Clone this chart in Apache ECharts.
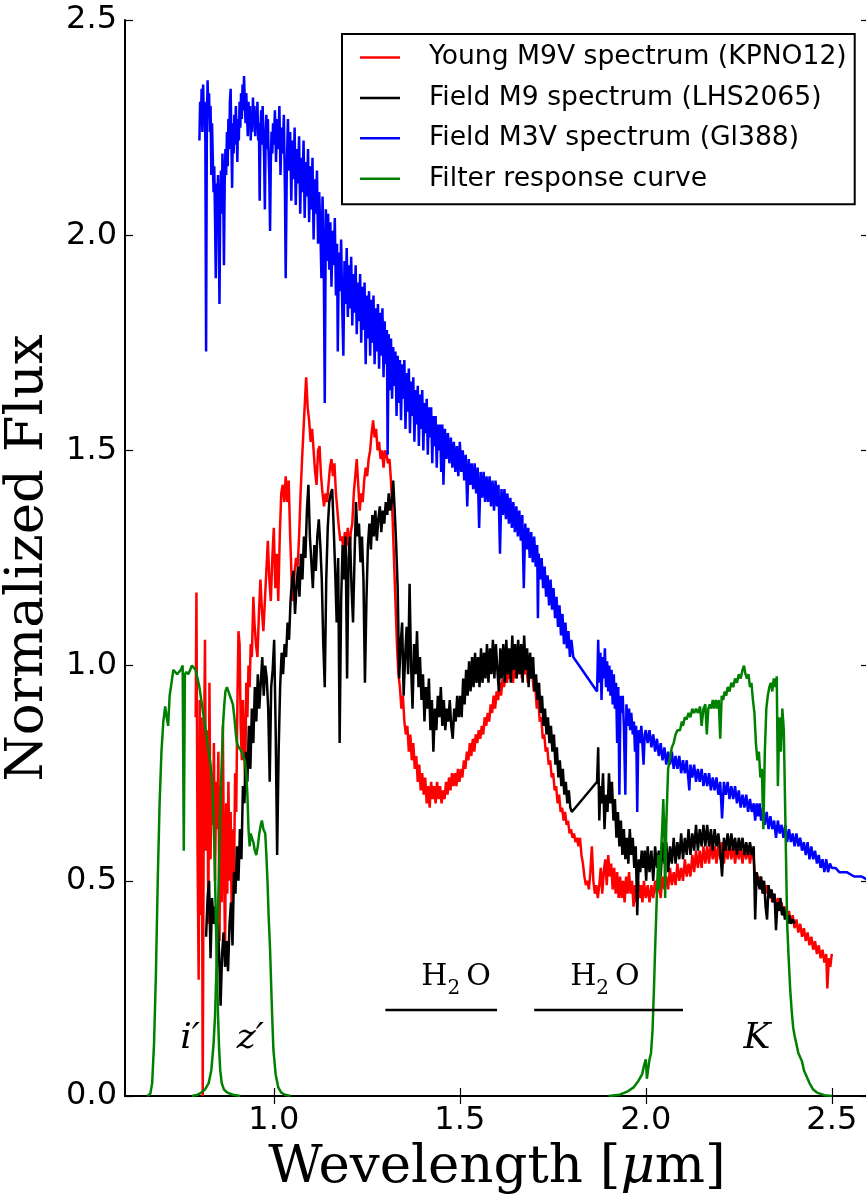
<!DOCTYPE html>
<html>
<head>
<meta charset="utf-8">
<script src="https://cdn.jsdelivr.net/npm/echarts@6/dist/echarts.min.js"></script>
<style>
  html, body { margin: 0; padding: 0; background: #fff; }
  #chart { width: 866px; height: 1196px; }
</style>
</head>
<body>
<div id="chart"></div>
<script>
// Tick positions on the wavelength axis
const xTicks = [1.0, 1.5, 2.0, 2.5];

// Young M9V spectrum (KPNO12): [wavelength um, normalized flux]
const youngM9 = [
  [0.790,0.88],[0.792,1.17],[0.795,0.57],[0.798,0.27],[0.801,0.92],[0.803,0.42],[0.806,0.88],[0.809,0.00],
  [0.812,0.75],[0.815,1.06],[0.818,0.57],[0.821,0.85],[0.824,0.40],[0.827,0.96],[0.830,0.55],[0.833,0.75],
  [0.836,0.63],[0.839,0.82],[0.842,0.50],[0.845,0.73],[0.848,0.62],[0.851,0.80],[0.854,0.36],[0.857,0.72],
  [0.860,0.45],[0.863,0.86],[0.866,0.55],[0.869,0.34],[0.872,0.68],[0.875,0.47],[0.878,0.73],[0.881,0.50],
  [0.884,0.66],[0.887,0.40],[0.890,0.62],[0.893,0.50],[0.896,0.75],[0.899,0.66],[0.902,0.90],[0.905,1.08],
  [0.908,1.05],[0.911,0.86],[0.914,0.78],[0.917,0.92],[0.920,0.82],[0.923,0.72],[0.926,0.96],[0.929,0.88],
  [0.932,1.00],[0.935,0.95],[0.938,1.05],[0.941,1.02],[0.945,1.16],[0.948,1.10],[0.952,1.05],[0.956,1.02],
  [0.960,1.12],[0.964,1.20],[0.968,1.13],[0.972,1.08],[0.976,1.15],[0.980,1.22],[0.984,1.29],[0.988,1.20],
  [0.992,1.15],[0.996,1.25],[1.000,1.32],[1.004,1.18],[1.008,1.26],[1.012,1.15],[1.016,1.30],[1.020,1.40],
  [1.024,1.42],[1.028,1.38],[1.032,1.44],[1.036,1.38],[1.040,1.43],[1.044,1.30],[1.048,1.20],[1.052,1.15],
  [1.056,1.22],[1.060,1.25],[1.064,1.23],[1.068,1.30],[1.072,1.40],[1.076,1.48],[1.080,1.55],[1.084,1.62],
  [1.087,1.67],[1.091,1.60],[1.095,1.57],[1.099,1.52],[1.103,1.55],[1.107,1.50],[1.111,1.45],[1.115,1.42],
  [1.119,1.50],[1.123,1.51],[1.127,1.44],[1.131,1.40],[1.135,1.37],[1.139,1.40],[1.143,1.38],[1.147,1.42],
  [1.151,1.46],[1.155,1.48],[1.159,1.44],[1.163,1.47],[1.167,1.40],[1.171,1.36],[1.175,1.32],[1.179,1.29],
  [1.183,1.30],[1.187,1.27],[1.191,1.31],[1.195,1.28],[1.199,1.32],[1.203,1.26],[1.207,1.31],[1.211,1.33],
  [1.215,1.40],[1.219,1.44],[1.223,1.48],[1.227,1.42],[1.231,1.36],[1.235,1.40],[1.239,1.38],[1.243,1.43],
  [1.247,1.46],[1.251,1.44],[1.255,1.48],[1.259,1.50],[1.263,1.54],[1.267,1.57],[1.271,1.53],[1.275,1.55],
  [1.279,1.50],[1.283,1.52],[1.287,1.48],[1.291,1.50],[1.295,1.46],[1.299,1.50],[1.303,1.49],[1.307,1.47],
  [1.311,1.48],[1.315,1.43],[1.319,1.35],[1.323,1.25],[1.327,1.15],[1.331,1.05],[1.335,0.98],[1.339,0.95],
  [1.343,0.90],[1.347,0.93],[1.351,0.87],[1.355,0.84],[1.359,0.86],[1.363,0.80],[1.367,0.84],[1.371,0.78],
  [1.375,0.82],[1.379,0.76],[1.383,0.79],[1.387,0.73],[1.391,0.77],[1.395,0.71],[1.399,0.75],[1.403,0.70],
  [1.407,0.74],[1.411,0.68],[1.415,0.72],[1.419,0.67],[1.423,0.73],[1.427,0.69],[1.431,0.72],[1.435,0.68],
  [1.439,0.73],[1.443,0.69],[1.447,0.72],[1.451,0.68],[1.455,0.71],[1.459,0.69],[1.463,0.73],[1.467,0.70],
  [1.471,0.74],[1.475,0.71],[1.479,0.75],[1.483,0.72],[1.487,0.75],[1.491,0.72],[1.495,0.76],[1.499,0.73],
  [1.503,0.76],[1.507,0.74],[1.511,0.78],[1.515,0.76],[1.519,0.80],[1.523,0.78],[1.527,0.82],[1.531,0.79],
  [1.535,0.83],[1.539,0.80],[1.543,0.84],[1.547,0.82],[1.551,0.85],[1.555,0.83],[1.559,0.86],[1.563,0.84],
  [1.567,0.88],[1.571,0.86],[1.575,0.89],[1.579,0.87],[1.583,0.91],[1.587,0.89],[1.591,0.93],[1.595,0.90],
  [1.599,0.94],[1.603,0.92],[1.607,0.96],[1.611,0.93],[1.615,0.97],[1.619,0.95],[1.623,0.99],[1.627,0.96],
  [1.631,1.00],[1.635,0.97],[1.639,1.00],[1.643,0.96],[1.647,1.01],[1.651,0.97],[1.655,1.00],[1.659,0.98],
  [1.663,1.02],[1.667,0.97],[1.671,1.01],[1.675,0.98],[1.679,1.00],[1.683,0.96],[1.687,1.00],[1.691,0.97],
  [1.695,0.98],[1.699,0.94],[1.703,0.95],[1.707,0.90],[1.711,0.92],[1.715,0.87],[1.719,0.88],[1.723,0.83],
  [1.727,0.84],[1.731,0.80],[1.735,0.81],[1.739,0.77],[1.743,0.78],[1.747,0.74],[1.751,0.75],[1.755,0.71],
  [1.759,0.72],[1.763,0.68],[1.767,0.70],[1.771,0.66],[1.775,0.67],[1.779,0.64],[1.783,0.66],[1.787,0.63],
  [1.791,0.64],[1.795,0.61],[1.799,0.62],[1.803,0.60],[1.807,0.61],[1.811,0.59],[1.815,0.60],[1.819,0.58],
  [1.823,0.60],[1.827,0.56],[1.831,0.54],[1.835,0.51],[1.839,0.49],[1.843,0.50],[1.847,0.48],[1.851,0.52],
  [1.855,0.58],[1.859,0.50],[1.863,0.47],[1.867,0.49],[1.871,0.46],[1.875,0.49],[1.879,0.53],[1.883,0.47],
  [1.887,0.52],[1.891,0.55],[1.895,0.49],[1.899,0.56],[1.903,0.51],[1.907,0.54],[1.911,0.48],[1.915,0.53],
  [1.919,0.47],[1.923,0.52],[1.927,0.46],[1.931,0.51],[1.935,0.46],[1.939,0.50],[1.943,0.45],[1.947,0.51],
  [1.951,0.47],[1.955,0.52],[1.959,0.47],[1.963,0.50],[1.967,0.44],[1.971,0.49],[1.975,0.45],[1.979,0.50],
  [1.983,0.46],[1.987,0.49],[1.991,0.45],[1.995,0.50],[2.000,0.46],[2.005,0.49],[2.010,0.45],[2.015,0.49],
  [2.020,0.46],[2.025,0.50],[2.030,0.47],[2.035,0.50],[2.040,0.46],[2.045,0.51],[2.050,0.48],[2.055,0.51],
  [2.060,0.48],[2.065,0.53],[2.070,0.49],[2.075,0.52],[2.080,0.49],[2.085,0.54],[2.090,0.50],[2.095,0.53],
  [2.100,0.50],[2.105,0.55],[2.110,0.51],[2.115,0.54],[2.120,0.51],[2.125,0.56],[2.130,0.52],[2.135,0.57],
  [2.140,0.53],[2.145,0.57],[2.150,0.53],[2.155,0.58],[2.160,0.54],[2.165,0.58],[2.170,0.54],[2.175,0.59],
  [2.180,0.55],[2.185,0.58],[2.190,0.54],[2.195,0.59],[2.200,0.55],[2.205,0.59],[2.210,0.54],[2.215,0.58],
  [2.220,0.55],[2.225,0.59],[2.230,0.55],[2.235,0.58],[2.240,0.54],[2.245,0.58],[2.250,0.55],[2.255,0.58],
  [2.260,0.54],[2.265,0.58],[2.270,0.55],[2.275,0.58],[2.280,0.54],[2.285,0.57],[2.290,0.55],[2.294,0.51],
  [2.298,0.52],[2.302,0.49],[2.306,0.51],[2.310,0.48],[2.315,0.50],[2.320,0.47],[2.325,0.49],[2.330,0.46],
  [2.335,0.48],[2.340,0.45],[2.345,0.47],[2.350,0.44],[2.355,0.46],[2.360,0.43],[2.365,0.45],[2.370,0.42],
  [2.375,0.44],[2.380,0.41],[2.385,0.43],[2.390,0.40],[2.395,0.42],[2.400,0.39],[2.405,0.41],[2.410,0.38],
  [2.415,0.40],[2.420,0.37],[2.425,0.39],[2.430,0.36],[2.435,0.38],[2.440,0.35],[2.445,0.37],[2.450,0.34],
  [2.455,0.36],[2.460,0.33],[2.465,0.35],[2.470,0.32],[2.475,0.34],[2.480,0.31],[2.485,0.33],[2.488,0.25],
  [2.492,0.32],[2.496,0.30],[2.500,0.33]
];

// Field M9 spectrum (LHS2065)
const fieldM9 = [
  [0.818,0.37],[0.822,0.46],[0.826,0.50],[0.830,0.32],[0.834,0.46],[0.838,0.40],[0.842,0.44],[0.846,0.38],
  [0.850,0.40],[0.854,0.30],[0.857,0.21],[0.861,0.33],[0.865,0.38],[0.869,0.30],[0.873,0.36],[0.877,0.29],
  [0.881,0.40],[0.885,0.45],[0.889,0.35],[0.893,0.52],[0.897,0.47],[0.901,0.58],[0.905,0.50],[0.909,0.62],
  [0.913,0.55],[0.917,0.72],[0.921,0.68],[0.925,0.80],[0.929,0.73],[0.933,0.86],[0.937,0.76],[0.941,0.90],
  [0.945,0.82],[0.949,0.95],[0.953,0.87],[0.957,0.98],[0.961,0.90],[0.965,0.96],[0.969,1.02],[0.973,0.93],
  [0.977,1.00],[0.981,0.97],[0.985,0.90],[0.989,0.73],[0.993,0.95],[0.997,0.99],[1.001,1.06],[1.005,0.85],
  [1.009,0.56],[1.013,0.80],[1.017,0.95],[1.021,1.03],[1.025,0.98],[1.029,1.05],[1.033,1.02],[1.037,1.10],
  [1.041,1.06],[1.045,1.15],[1.049,1.20],[1.053,1.22],[1.057,1.12],[1.061,1.18],[1.065,1.23],[1.069,1.16],
  [1.073,1.26],[1.077,1.20],[1.081,1.30],[1.085,1.25],[1.089,1.36],[1.093,1.42],[1.097,1.30],[1.101,1.24],
  [1.105,1.18],[1.109,1.28],[1.113,1.22],[1.117,1.30],[1.121,1.34],[1.125,1.28],[1.129,1.20],[1.133,1.05],
  [1.137,0.95],[1.141,1.20],[1.145,1.32],[1.149,1.38],[1.153,1.40],[1.157,1.41],[1.161,1.32],[1.165,1.22],
  [1.169,1.10],[1.173,1.25],[1.177,0.82],[1.181,1.15],[1.185,1.28],[1.189,1.20],[1.193,1.30],[1.197,0.97],
  [1.201,1.25],[1.205,1.30],[1.209,1.18],[1.213,1.10],[1.217,1.25],[1.221,1.38],[1.225,1.30],[1.229,1.33],
  [1.233,1.24],[1.237,1.30],[1.241,1.20],[1.245,0.96],[1.249,1.15],[1.253,1.28],[1.257,1.33],[1.261,1.27],
  [1.265,1.35],[1.269,1.30],[1.273,1.36],[1.277,1.29],[1.281,1.34],[1.285,1.37],[1.289,1.31],[1.293,1.36],
  [1.297,1.33],[1.301,1.38],[1.305,1.35],[1.309,1.40],[1.313,1.36],[1.317,1.38],[1.321,1.43],[1.325,1.36],
  [1.329,1.28],[1.333,1.18],[1.337,0.97],[1.341,1.05],[1.345,1.10],[1.349,0.93],[1.353,1.02],[1.357,1.09],
  [1.361,0.98],[1.365,1.19],[1.369,1.00],[1.373,0.90],[1.377,1.05],[1.381,0.98],[1.385,1.08],[1.389,0.95],
  [1.393,1.02],[1.397,0.92],[1.401,0.98],[1.405,0.87],[1.409,0.95],[1.413,0.90],[1.417,0.97],[1.421,0.85],
  [1.425,0.92],[1.429,0.80],[1.433,0.90],[1.437,0.85],[1.441,0.93],[1.445,0.88],[1.449,0.95],[1.453,0.86],
  [1.457,0.92],[1.461,0.85],[1.465,0.90],[1.469,0.87],[1.473,0.92],[1.477,0.86],[1.481,0.83],[1.485,0.90],
  [1.489,0.87],[1.493,0.93],[1.497,0.88],[1.501,0.93],[1.505,0.88],[1.509,0.97],[1.513,0.91],[1.517,0.99],
  [1.521,0.93],[1.525,1.01],[1.529,0.94],[1.533,1.02],[1.537,0.95],[1.541,1.03],[1.545,0.96],[1.549,1.02],
  [1.553,0.95],[1.557,1.04],[1.561,0.96],[1.565,1.03],[1.569,0.97],[1.573,1.05],[1.577,0.96],[1.581,1.04],
  [1.585,0.98],[1.589,1.06],[1.593,0.97],[1.597,1.05],[1.601,0.99],[1.605,0.94],[1.609,1.04],[1.613,0.97],
  [1.617,1.05],[1.621,0.96],[1.625,1.06],[1.629,0.98],[1.633,1.04],[1.637,0.96],[1.641,1.07],[1.645,0.99],
  [1.649,1.05],[1.653,0.97],[1.657,1.06],[1.661,0.98],[1.665,1.05],[1.669,0.96],[1.673,1.07],[1.677,0.99],
  [1.681,1.04],[1.685,0.95],[1.689,1.03],[1.693,0.97],[1.697,1.02],[1.701,0.94],[1.705,0.98],[1.709,0.92],
  [1.713,0.96],[1.717,0.89],[1.721,0.93],[1.725,0.86],[1.729,0.90],[1.733,0.84],[1.737,0.88],[1.741,0.82],
  [1.745,0.86],[1.749,0.80],[1.753,0.84],[1.757,0.77],[1.761,0.81],[1.765,0.74],[1.769,0.78],[1.773,0.72],
  [1.777,0.76],[1.781,0.70],[1.785,0.73],[1.789,0.68],[1.793,0.71],[1.797,0.67],[1.801,0.66],
  [1.869,0.73],[1.872,0.81],[1.875,0.64],[1.878,0.72],[1.881,0.68],[1.885,0.75],[1.889,0.62],[1.893,0.70],
  [1.897,0.66],[1.901,0.75],[1.905,0.68],[1.909,0.73],[1.913,0.64],[1.917,0.69],[1.921,0.60],[1.925,0.66],
  [1.929,0.58],[1.933,0.64],[1.937,0.56],[1.941,0.62],[1.945,0.55],[1.949,0.60],[1.953,0.54],[1.957,0.62],
  [1.961,0.56],[1.965,0.60],[1.969,0.53],[1.973,0.58],[1.977,0.42],[1.981,0.55],[1.985,0.52],[1.989,0.57],
  [1.993,0.53],[1.997,0.57],[2.001,0.50],[2.005,0.58],[2.010,0.52],[2.015,0.57],[2.020,0.50],[2.025,0.58],
  [2.030,0.53],[2.035,0.57],[2.040,0.51],[2.045,0.59],[2.050,0.54],[2.055,0.59],[2.060,0.52],[2.065,0.58],
  [2.070,0.54],[2.075,0.60],[2.080,0.54],[2.085,0.59],[2.090,0.55],[2.095,0.61],[2.100,0.55],[2.105,0.60],
  [2.110,0.56],[2.115,0.62],[2.120,0.56],[2.125,0.61],[2.130,0.57],[2.135,0.63],[2.140,0.57],[2.145,0.62],
  [2.150,0.58],[2.155,0.63],[2.160,0.58],[2.165,0.63],[2.170,0.58],[2.175,0.62],[2.180,0.57],[2.185,0.62],
  [2.190,0.58],[2.195,0.61],[2.200,0.57],[2.205,0.51],[2.210,0.60],[2.215,0.57],[2.220,0.61],[2.225,0.57],
  [2.230,0.61],[2.235,0.57],[2.240,0.60],[2.245,0.56],[2.250,0.60],[2.255,0.57],[2.260,0.60],[2.265,0.56],
  [2.270,0.59],[2.275,0.56],[2.280,0.59],[2.285,0.56],[2.290,0.58],[2.294,0.41],[2.298,0.52],[2.302,0.50],
  [2.306,0.48],[2.310,0.51],[2.314,0.47],[2.318,0.50],[2.322,0.44],[2.326,0.41],[2.330,0.49],[2.334,0.46],
  [2.338,0.48],[2.342,0.45],[2.346,0.47],[2.350,0.385],[2.354,0.45],[2.358,0.43],[2.362,0.46],[2.366,0.42],
  [2.370,0.44],[2.374,0.41],[2.378,0.43],[2.382,0.40],[2.386,0.42],[2.390,0.40],[2.395,0.41],[2.400,0.40]
];

// Field M3V spectrum (Gl388), optical/J/H part
const fieldM3Short = [
  [0.800,2.22],[0.802,2.31],[0.804,2.26],[0.806,2.34],[0.808,2.24],[0.810,2.35],[0.812,2.27],[0.814,2.31],
  [0.816,2.22],[0.818,1.73],[0.820,2.25],[0.822,2.36],[0.824,2.29],[0.826,2.33],[0.828,2.24],[0.830,2.30],
  [0.832,2.14],[0.834,2.26],[0.836,2.18],[0.838,2.10],[0.840,2.16],[0.842,2.04],[0.844,1.90],[0.846,2.12],
  [0.848,2.06],[0.850,2.14],[0.852,1.98],[0.854,1.84],[0.856,2.08],[0.858,2.15],[0.860,2.05],[0.862,2.19],
  [0.864,2.10],[0.866,1.93],[0.868,2.12],[0.870,2.20],[0.872,2.14],[0.874,2.24],[0.876,2.16],[0.878,2.27],
  [0.880,2.20],[0.882,2.31],[0.884,2.34],[0.886,2.22],[0.888,2.11],[0.890,2.26],[0.892,2.19],[0.894,2.28],
  [0.896,2.21],[0.898,2.30],[0.900,2.24],[0.902,2.17],[0.904,2.27],[0.906,2.22],[0.908,2.31],[0.910,2.25],
  [0.912,2.33],[0.914,2.27],[0.916,2.35],[0.918,2.29],[0.920,2.37],[0.922,2.31],[0.924,2.26],[0.926,2.33],
  [0.928,2.28],[0.930,2.23],[0.932,2.31],[0.934,2.25],[0.936,2.30],[0.938,2.22],[0.940,2.28],[0.942,2.24],
  [0.944,2.32],[0.946,2.26],[0.948,2.30],[0.950,2.23],[0.952,2.29],[0.954,2.25],[0.956,2.31],[0.958,2.22],
  [0.960,2.26],[0.962,2.08],[0.964,2.24],[0.966,2.29],[0.968,2.21],[0.970,2.30],[0.972,2.24],[0.974,2.18],
  [0.976,2.06],[0.978,2.23],[0.980,2.28],[0.982,2.20],[0.984,2.27],[0.986,2.19],[0.988,2.13],[0.990,2.01],
  [0.992,2.17],[0.994,2.24],[0.996,2.19],[0.998,2.26],[1.000,2.21],[1.003,2.29],[1.006,2.17],[1.009,2.27],
  [1.012,2.20],[1.015,2.30],[1.018,2.14],[1.021,2.25],[1.024,2.19],[1.027,2.28],[1.030,2.10],[1.032,1.90],
  [1.035,2.16],[1.038,2.27],[1.041,2.15],[1.044,2.24],[1.047,2.08],[1.050,2.22],[1.053,2.13],[1.056,2.25],
  [1.059,2.07],[1.062,2.20],[1.065,2.12],[1.068,2.23],[1.071,2.05],[1.074,2.18],[1.077,2.10],[1.080,2.22],
  [1.083,2.04],[1.086,2.17],[1.089,2.09],[1.092,2.20],[1.095,2.03],[1.098,2.16],[1.101,2.06],[1.104,2.18],
  [1.107,1.99],[1.110,2.13],[1.113,2.05],[1.116,2.15],[1.119,1.98],[1.122,2.10],[1.125,2.02],[1.128,1.90],
  [1.131,2.09],[1.134,1.97],[1.137,1.61],[1.140,2.06],[1.143,1.94],[1.146,2.05],[1.149,1.92],[1.152,2.03],
  [1.155,1.88],[1.158,2.01],[1.161,1.93],[1.164,2.04],[1.167,1.86],[1.170,1.98],[1.172,1.73],[1.175,1.96],
  [1.178,1.87],[1.181,1.99],[1.184,1.83],[1.187,1.72],[1.190,1.94],[1.193,1.84],[1.196,1.97],[1.199,1.81],
  [1.202,1.93],[1.205,1.83],[1.208,1.95],[1.211,1.79],[1.214,1.91],[1.217,1.82],[1.220,1.93],[1.223,1.77],
  [1.226,1.89],[1.229,1.80],[1.232,1.91],[1.235,1.75],[1.238,1.88],[1.241,1.78],[1.244,1.89],[1.247,1.70],
  [1.250,1.86],[1.253,1.76],[1.256,1.87],[1.259,1.72],[1.262,1.85],[1.265,1.75],[1.268,1.86],[1.271,1.70],
  [1.274,1.83],[1.277,1.73],[1.280,1.84],[1.283,1.69],[1.286,1.82],[1.289,1.72],[1.292,1.83],[1.295,1.67],
  [1.298,1.80],[1.301,1.70],[1.304,1.78],[1.306,1.49],[1.309,1.77],[1.312,1.64],[1.315,1.76],[1.318,1.62],
  [1.321,1.74],[1.324,1.65],[1.327,1.73],[1.330,1.58],[1.333,1.72],[1.336,1.61],[1.339,1.71],[1.342,1.57],
  [1.345,1.70],[1.348,1.62],[1.351,1.71],[1.354,1.55],[1.357,1.68],[1.360,1.59],[1.363,1.69],[1.366,1.54],
  [1.369,1.66],[1.372,1.58],[1.375,1.67],[1.378,1.52],[1.381,1.64],[1.384,1.56],[1.387,1.65],[1.390,1.51],
  [1.393,1.63],[1.396,1.55],[1.399,1.64],[1.402,1.50],[1.405,1.61],[1.408,1.54],[1.411,1.62],[1.414,1.49],
  [1.417,1.60],[1.420,1.53],[1.423,1.60],[1.426,1.47],[1.429,1.58],[1.432,1.51],[1.435,1.58],[1.438,1.46],
  [1.441,1.56],[1.444,1.50],[1.447,1.56],[1.450,1.45],[1.453,1.56],[1.456,1.42],[1.460,1.55],[1.464,1.48],
  [1.468,1.54],[1.472,1.47],[1.476,1.53],[1.480,1.46],[1.484,1.52],[1.488,1.45],[1.492,1.51],[1.496,1.44],
  [1.500,1.52],[1.504,1.45],[1.508,1.50],[1.512,1.43],[1.516,1.49],[1.520,1.37],[1.524,1.48],[1.528,1.42],
  [1.532,1.47],[1.536,1.41],[1.540,1.47],[1.544,1.40],[1.548,1.46],[1.552,1.32],[1.556,1.45],[1.560,1.39],
  [1.564,1.45],[1.568,1.38],[1.572,1.44],[1.576,1.38],[1.580,1.44],[1.584,1.37],[1.588,1.43],[1.592,1.36],
  [1.596,1.43],[1.600,1.37],[1.604,1.42],[1.608,1.26],[1.612,1.41],[1.616,1.35],[1.620,1.41],[1.624,1.34],
  [1.628,1.40],[1.632,1.33],[1.636,1.39],[1.640,1.32],[1.644,1.38],[1.648,1.31],[1.652,1.37],[1.656,1.30],
  [1.660,1.36],[1.664,1.29],[1.668,1.35],[1.672,1.18],[1.676,1.33],[1.680,1.27],[1.684,1.32],[1.688,1.25],
  [1.692,1.31],[1.696,1.24],[1.700,1.30],[1.704,1.23],[1.708,1.28],[1.710,1.11],[1.712,1.26],[1.716,1.20],
  [1.720,1.25],[1.724,1.18],[1.728,1.23],[1.732,1.16],[1.736,1.21],[1.740,1.14],[1.744,1.20],[1.748,1.13],
  [1.752,1.18],[1.756,1.11],[1.760,1.16],[1.764,1.09],[1.768,1.14],[1.772,1.07],[1.776,1.12],[1.780,1.05],
  [1.784,1.10],[1.788,1.04],[1.792,1.08],[1.796,1.02],[1.800,1.06],[1.805,1.02]
];

// Field M3V spectrum (Gl388), K-band part (joined to the part above by a straight segment)
const fieldM3Long = [
  [1.869,0.94],[1.872,1.06],[1.875,0.96],[1.878,1.03],[1.881,0.92],[1.884,1.02],[1.887,0.97],[1.890,1.04],
  [1.893,0.95],[1.896,1.01],[1.899,0.94],[1.902,1.00],[1.905,0.93],[1.908,0.99],[1.911,0.91],[1.914,0.98],
  [1.917,0.90],[1.920,0.96],[1.923,0.82],[1.926,0.95],[1.929,0.70],[1.932,0.93],[1.935,0.89],[1.938,0.93],
  [1.941,0.86],[1.945,0.70],[1.948,0.91],[1.951,0.86],[1.955,0.90],[1.958,0.85],[1.961,0.89],[1.965,0.84],
  [1.968,0.87],[1.971,0.80],[1.974,0.86],[1.977,0.66],[1.980,0.85],[1.984,0.82],[1.988,0.86],[1.992,0.80],
  [1.994,0.77],[1.997,0.84],[2.000,0.85],[2.005,0.82],[2.010,0.85],[2.015,0.81],[2.020,0.84],[2.025,0.80],
  [2.030,0.83],[2.035,0.79],[2.040,0.82],[2.045,0.78],[2.050,0.81],[2.055,0.77],[2.060,0.80],[2.065,0.77],
  [2.070,0.80],[2.075,0.76],[2.080,0.79],[2.085,0.76],[2.090,0.79],[2.095,0.75],[2.100,0.78],[2.105,0.75],
  [2.110,0.78],[2.114,0.74],[2.117,0.71],[2.120,0.77],[2.125,0.74],[2.130,0.77],[2.135,0.73],[2.140,0.76],
  [2.145,0.73],[2.150,0.76],[2.155,0.72],[2.160,0.75],[2.165,0.72],[2.170,0.75],[2.175,0.71],[2.180,0.74],
  [2.185,0.71],[2.190,0.74],[2.195,0.70],[2.200,0.73],[2.205,0.645],[2.210,0.73],[2.215,0.70],[2.220,0.73],
  [2.225,0.69],[2.230,0.72],[2.235,0.69],[2.240,0.72],[2.245,0.68],[2.250,0.71],[2.255,0.67],[2.260,0.70],
  [2.265,0.67],[2.270,0.70],[2.275,0.66],[2.280,0.69],[2.285,0.66],[2.290,0.68],[2.294,0.64],[2.298,0.68],
  [2.302,0.65],[2.306,0.68],[2.310,0.64],[2.315,0.67],[2.320,0.63],[2.325,0.66],[2.330,0.62],[2.335,0.65],
  [2.340,0.62],[2.345,0.64],[2.350,0.60],[2.355,0.64],[2.360,0.61],[2.365,0.63],[2.370,0.60],[2.375,0.63],
  [2.380,0.59],[2.385,0.62],[2.390,0.59],[2.395,0.61],[2.400,0.58],[2.405,0.61],[2.410,0.58],[2.415,0.60],
  [2.420,0.57],[2.425,0.59],[2.430,0.56],[2.435,0.59],[2.440,0.55],[2.445,0.58],[2.450,0.55],[2.455,0.57],
  [2.460,0.54],[2.465,0.56],[2.470,0.53],[2.475,0.55],[2.480,0.52],[2.485,0.55],[2.490,0.52],[2.495,0.54],
  [2.500,0.53],[2.510,0.53],[2.520,0.52],[2.540,0.52],[2.560,0.51],[2.580,0.51],[2.600,0.50]
];

// Filter transmission curves: i', z' and K
const filterI = [
  [0.660,0.00],[0.668,0.005],[0.673,0.03],[0.678,0.12],[0.683,0.28],[0.688,0.50],[0.693,0.68],[0.698,0.80],
  [0.703,0.87],[0.708,0.905],[0.712,0.88],[0.716,0.86],[0.720,0.93],[0.725,0.96],[0.730,0.99],[0.735,0.985],
  [0.740,0.98],[0.745,0.985],[0.750,0.99],[0.755,1.00],[0.758,0.57],[0.761,0.98],[0.765,0.985],[0.770,0.98],
  [0.775,0.99],[0.780,1.00],[0.785,1.00],[0.790,0.99],[0.795,0.97],[0.800,0.95],[0.805,0.92],[0.810,0.89],
  [0.815,0.86],[0.820,0.83],[0.825,0.80],[0.830,0.77],[0.835,0.72],[0.838,0.65],[0.841,0.55],[0.844,0.42],
  [0.847,0.30],[0.850,0.19],[0.853,0.11],[0.856,0.06],[0.860,0.03],[0.866,0.015],[0.875,0.008],[0.890,0.003],
  [0.910,0.00]
];
const filterZ = [
  [0.780,0.00],[0.795,0.003],[0.805,0.008],[0.815,0.015],[0.825,0.03],[0.832,0.06],[0.838,0.12],[0.842,0.185],
  [0.846,0.30],[0.849,0.40],[0.852,0.50],[0.855,0.62],[0.858,0.72],[0.861,0.80],[0.864,0.87],[0.867,0.91],
  [0.870,0.94],[0.874,0.95],[0.878,0.94],[0.882,0.93],[0.886,0.92],[0.890,0.91],[0.894,0.88],[0.898,0.84],
  [0.901,0.82],[0.906,0.81],[0.910,0.81],[0.914,0.80],[0.918,0.80],[0.922,0.78],[0.926,0.75],[0.929,0.70],
  [0.932,0.62],[0.935,0.58],[0.938,0.61],[0.941,0.60],[0.945,0.59],[0.949,0.57],[0.953,0.56],[0.957,0.58],
  [0.961,0.61],[0.965,0.63],[0.968,0.64],[0.972,0.62],[0.977,0.61],[0.980,0.56],[0.983,0.50],[0.986,0.42],
  [0.990,0.34],[0.995,0.20],[0.999,0.107],[1.005,0.05],[1.012,0.02],[1.020,0.008],[1.030,0.003],[1.045,0.00]
];
const filterK = [
  [1.900,0.00],[1.930,0.003],[1.950,0.01],[1.967,0.02],[1.980,0.035],[1.990,0.05],[1.995,0.07],[2.000,0.085],
  [2.003,0.04],[2.006,0.06],[2.010,0.085],[2.014,0.10],[2.018,0.15],[2.022,0.25],[2.025,0.34],[2.028,0.42],
  [2.031,0.50],[2.034,0.56],[2.037,0.48],[2.040,0.55],[2.044,0.62],[2.047,0.69],[2.050,0.60],[2.052,0.46],
  [2.055,0.63],[2.060,0.76],[2.066,0.79],[2.070,0.81],[2.075,0.82],[2.080,0.84],[2.085,0.85],[2.092,0.85],
  [2.097,0.87],[2.100,0.86],[2.105,0.88],[2.110,0.875],[2.115,0.89],[2.120,0.88],[2.125,0.90],[2.130,0.89],
  [2.135,0.90],[2.140,0.89],[2.146,0.905],[2.150,0.86],[2.155,0.90],[2.160,0.91],[2.164,0.84],[2.168,0.90],
  [2.172,0.91],[2.176,0.90],[2.180,0.92],[2.184,0.90],[2.188,0.92],[2.192,0.90],[2.196,0.92],[2.200,0.83],
  [2.204,0.93],[2.208,0.92],[2.212,0.94],[2.216,0.93],[2.220,0.95],[2.225,0.94],[2.230,0.96],[2.235,0.95],
  [2.240,0.97],[2.245,0.96],[2.250,0.98],[2.255,0.97],[2.260,0.99],[2.264,1.00],[2.268,0.98],[2.272,0.97],
  [2.276,0.98],[2.280,0.95],[2.284,0.96],[2.288,0.92],[2.292,0.89],[2.296,0.82],[2.300,0.78],[2.304,0.80],
  [2.308,0.74],[2.312,0.76],[2.316,0.62],[2.320,0.80],[2.324,0.90],[2.328,0.93],[2.332,0.95],[2.336,0.96],
  [2.340,0.94],[2.344,0.97],[2.348,0.95],[2.352,0.975],[2.355,0.72],[2.359,0.88],[2.363,0.80],[2.367,0.90],
  [2.371,0.85],[2.374,0.70],[2.377,0.55],[2.380,0.40],[2.384,0.32],[2.388,0.25],[2.392,0.20],[2.396,0.16],
  [2.400,0.14],[2.405,0.12],[2.410,0.10],[2.415,0.09],[2.420,0.08],[2.425,0.06],[2.430,0.05],[2.435,0.04],
  [2.440,0.03],[2.450,0.015],[2.460,0.008],[2.480,0.002],[2.500,0.00]
];

// Water absorption bands (wavelength ranges) and the flux level of their bars
const waterBands = [[1.3, 1.6], [1.7, 2.1]];
const waterLevel = 0.2;
const waterLabelX = [1.49, 1.89];
const waterLabelY = 0.277;

// Filter names and where they are written
const filterNames = ['i′', 'z′', 'K'];
const filterLabelX = [0.775, 0.937, 2.299];
const filterLabelY = 0.133;

const legendNames = [
  'Young M9V spectrum (KPNO12)',
  'Field M9 spectrum (LHS2065)',
  'Field M3V spectrum (Gl388)',
  'Filter response curve'
];

const chart = echarts.init(document.getElementById('chart'), null, { renderer: 'canvas' });

function spectrum(name, data, color, z) {
  return {
    name, type: 'line', data, z,
    showSymbol: false, symbol: 'none', animation: false, silent: true,
    lineStyle: { color, width: 2.5 }, itemStyle: { color }
  };
}

const series = [
  spectrum(legendNames[0], youngM9, '#ff0000', 2),
  spectrum(legendNames[1], fieldM9, '#000000', 3),
  spectrum(legendNames[2], fieldM3Short.concat(fieldM3Long), '#0000ff', 4),
  spectrum(legendNames[3], filterI, '#008000', 5),
  spectrum(legendNames[3], filterZ, '#008000', 5),
  spectrum(legendNames[3], filterK, '#008000', 5)
];

waterBands.forEach((band, i) => {
  series.push({
    name: 'water' + i, type: 'line', z: 6, animation: false, silent: true,
    showSymbol: false, symbol: 'none',
    data: [[band[0], waterLevel], [band[1], waterLevel]],
    lineStyle: { color: '#000', width: 2.5 }
  });
});

const serif = 'DejaVu Serif';
const plain = { color: '#000', opacity: 1, textBorderWidth: 0, textBorderColor: 'transparent', textShadowBlur: 0 };
series.push({
  name: 'notes', type: 'scatter', z: 7, animation: false, silent: true,
  symbolSize: 0,
  itemStyle: { color: '#000', opacity: 1 },
  emphasis: { disabled: true },
  data: [
    ...waterLabelX.map(x => ({ value: [x, waterLabelY], kind: 'water' })),
    ...filterNames.map((n, i) => ({ value: [filterLabelX[i], filterLabelY], name: n, kind: 'filter' }))
  ],
  label: Object.assign({
    show: true, position: 'inside',
    formatter: p => p.data.kind === 'water' ? '{n|H}{s|2}{n|O}' : '{f|' + p.data.name + '}',
    rich: {
      n: Object.assign({ fontFamily: serif, fontSize: 30, lineHeight: 44 }, plain),
      s: Object.assign({ fontFamily: serif, fontSize: 20, lineHeight: 20, verticalAlign: 'bottom', padding: [0, 6, 0, 0] }, plain),
      f: Object.assign({ fontFamily: serif, fontStyle: 'italic', fontSize: 36, lineHeight: 40 }, plain)
    }
  }, plain)
});

const tickFont = { fontFamily: 'DejaVu Sans', fontSize: 32, color: '#000' };
const spine = { show: true, lineStyle: { color: '#000', width: 2 } };
const tick = { show: true, inside: true, length: 8, lineStyle: { color: '#000', width: 1.2 } };

const option = {
  backgroundColor: '#fff',
  animation: false,
  grid: { left: 125, right: -3, top: 20, bottom: 100, containLabel: false, outerBoundsMode: 'none' },
  legend: {
    data: legendNames,
    orient: 'vertical',
    left: 342, top: 34,
    padding: [10, 8, 12, 18],
    itemWidth: 40, itemHeight: 2.5, itemGap: 13.4,
    icon: 'rect',
    selectedMode: false,
    backgroundColor: '#fff',
    borderColor: '#000', borderWidth: 2, borderRadius: 0,
    textStyle: { fontFamily: 'DejaVu Sans', fontSize: 26.6, lineHeight: 26.6, color: '#000', padding: [0, 0, 0, 24] }
  },
  xAxis: [
    {
      type: 'value', min: 0.6, max: 2.6, position: 'bottom',
      axisLine: spine,
      axisTick: Object.assign({ customValues: xTicks }, tick),
      axisLabel: Object.assign({ customValues: xTicks, margin: 9, formatter: v => v.toFixed(1) }, tickFont),
      splitLine: { show: false },
      name: 'Wevelength [{it|μ}m]',
      nameLocation: 'middle', nameGap: 42,
      nameTextStyle: {
        fontFamily: serif, fontSize: 53, color: '#000', lineHeight: 53,
        rich: { it: { fontFamily: serif, fontStyle: 'italic', fontSize: 53, color: '#000' } }
      }
    },
    {
      type: 'value', min: 0.6, max: 2.6, position: 'top',
      axisLine: spine,
      axisTick: Object.assign({ customValues: xTicks }, tick),
      axisLabel: { show: false },
      splitLine: { show: false }
    }
  ],
  yAxis: [
    {
      type: 'value', min: 0, max: 2.5, interval: 0.5, position: 'left',
      axisLine: spine, axisTick: tick,
      axisLabel: Object.assign({ margin: 8, formatter: v => v.toFixed(1) }, tickFont),
      splitLine: { show: false },
      name: 'Normalized Flux',
      nameLocation: 'middle', nameGap: 66, nameRotate: 90,
      nameTextStyle: { fontFamily: serif, fontSize: 53, color: '#000', lineHeight: 53 }
    },
    {
      type: 'value', min: 0, max: 2.5, interval: 0.5, position: 'right',
      axisLine: spine, axisTick: tick,
      axisLabel: { show: false },
      splitLine: { show: false }
    }
  ],
  series
};

chart.setOption(option);
</script>
</body>
</html>
